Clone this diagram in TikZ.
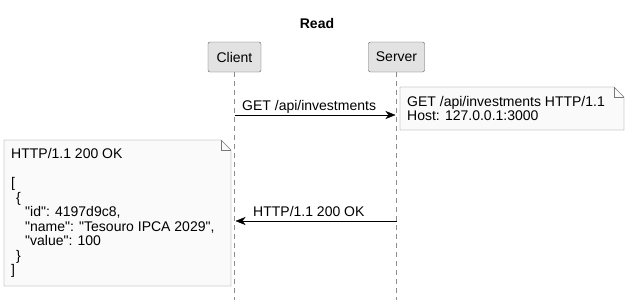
\documentclass[tikz,border=0pt]{standalone}
\usepackage{fontspec}
\setmainfont{Liberation Sans}[Ligatures=TeXOff]
\usetikzlibrary{arrows.meta,positioning}
\definecolor{partfill}{RGB}{226,226,226}
\definecolor{partline}{RGB}{90,90,90}
\definecolor{notefill}{RGB}{250,250,250}
\definecolor{noteline}{RGB}{120,120,120}
\definecolor{lifegray}{RGB}{140,140,140}

\begin{document}
\begin{tikzpicture}[x=1pt,y=-1pt,
  every node/.style={font=\fontsize{14}{14.5}\selectfont},
  actor/.style={draw=partline,fill=partfill,rounded corners=2pt,minimum height=30pt,inner xsep=5pt},
  life/.style={draw=lifegray,dash pattern=on 5pt off 4pt},
  msg/.style={thin,-{Stealth[length=10pt,width=8pt,inset=3pt]}},
  notetext/.style={anchor=north west,align=left,inner sep=0pt}]
\useasboundingbox (0,0) rectangle (630,308);

\node[font=\fontsize{14}{15}\selectfont\bfseries] (title) at (317,23) {Read};

% participants
\node[actor,minimum width=53pt] (client) at (234.5,57) {Client};
\node[actor,minimum width=56pt] (server) at (396.5,57) {Server};

% lifelines
\coordinate (cend) at (234.5,300);
\coordinate (send) at (396.5,300);
\draw [life] (client.south) -- (cend);
\draw [life] (server.south) -- (send);

% request
\coordinate (c1) at (234.5,115);
\coordinate (s1) at (395.5,115);
\draw [msg] (c1) -- (s1);
\node[anchor=base west,inner sep=0pt] (get) at (242,110) {GET /api/investments};

\draw [draw=noteline,fill=notefill] (400,87) -- (614,87) -- (624,97) -- (624,130) -- (400,130) -- cycle;
\draw [draw=noteline] (614,87) -- (614,97) -- (624,97);
\node[notetext] (req) at (407,96) {GET /api/investments HTTP/1.1\\Host: 127.0.0.1:3000};

% response
\coordinate (s2) at (396.5,221);
\coordinate (c2) at (235.5,221);
\draw [msg] (s2) -- (c2);
\node[anchor=base west,inner sep=0pt] (ok) at (253,216) {HTTP/1.1 200 OK};

\draw [draw=noteline,fill=notefill] (4,140) -- (221,140) -- (231,150) -- (231,286) -- (4,286) -- cycle;
\draw [draw=noteline] (221,140) -- (221,150) -- (231,150);
\node[notetext] (resp) at (11,148) {HTTP/1.1 200 OK\\[15pt]
  {[}\\
  \hspace*{5pt}\{\\
  \hspace*{14pt}"id": 4197d9c8,\\
  \hspace*{14pt}"name": "Tesouro IPCA 2029",\\
  \hspace*{14pt}"value": 100\\
  \hspace*{5pt}\}\\
  {]}};
\end{tikzpicture}
\end{document}
